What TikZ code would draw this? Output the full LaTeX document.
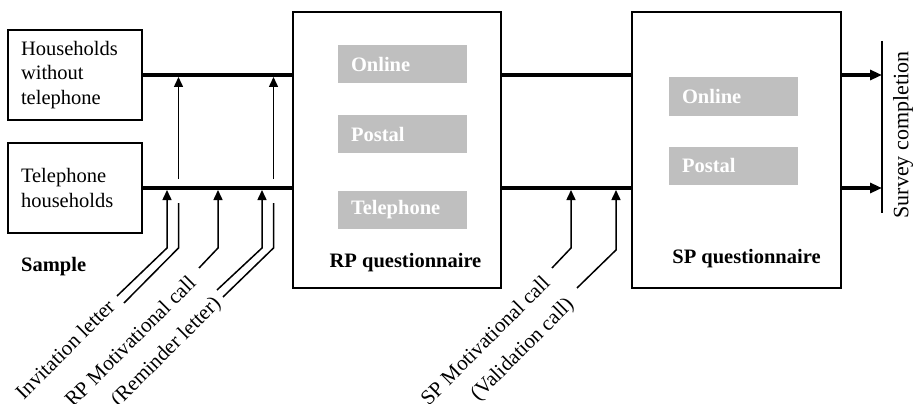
\documentclass[tikz,border=0pt]{standalone}
\usepackage{fontspec}
\setmainfont{Liberation Serif}
\usetikzlibrary{arrows.meta}
\begin{document}
\begin{tikzpicture}[x=1pt,y=-1pt,
  frame/.style={draw, line width=1.3pt, inner sep=0pt},
  srcbox/.style={frame, align=left, text width=108pt, inner xsep=13pt,
    minimum height=90pt, font=\fontsize{20.5}{24.5}\selectfont},
  mode/.style={fill=black!25, text=white, align=left, text width=103pt,
    inner xsep=13pt, inner ysep=0pt, minimum height=38pt,
    font=\fontsize{20.5}{24}\selectfont\bfseries},
  caption/.style={anchor=base, font=\fontsize{20.5}{24}\selectfont\bfseries},
  flow/.style={line width=3.2pt},
  flowout/.style={line width=3.2pt, -{Triangle[length=12pt,width=10pt]}},
  lead/.style={line width=1.5pt},
  cue/.style={line width=1.5pt, -{Triangle[length=10pt,width=9pt]}},
  tag/.style={rotate=45, anchor=east, inner sep=0pt,
    font=\fontsize{21}{24}\selectfont}]
\useasboundingbox (0,0) rectangle (916,404);

% sample groups
\node[srcbox] (nophone) at (75,75) {Households\\without\\telephone};
\node[srcbox] (phone) at (75,188) {Telephone\\households};
\node[anchor=base west, inner sep=0pt, font=\fontsize{20.5}{24}\selectfont\bfseries]
  (sample) at (21,271) {Sample};

% RP questionnaire
\node[frame, minimum width=208pt, minimum height=276pt] (rp) at (397,150) {};
\node[mode] (rponline) at (402.5,64) {Online};
\node[mode] (rppostal) at (402.5,134) {Postal};
\node[mode] (rpphone) at (402.5,210) {Telephone};
\node[caption] (rpcap) at (405.5,267) {RP questionnaire};

% SP questionnaire
\node[frame, minimum width=209pt, minimum height=276pt] (sp) at (736.5,150) {};
\node[mode] (sponline) at (733.5,96.5) {Online};
\node[mode] (sppostal) at (733.5,165.5) {Postal};
\node[caption] (spcap) at (746.5,263) {SP questionnaire};

% survey completion bar
\coordinate (bartop) at (882,41);
\coordinate (barbot) at (882,213);
\draw[line width=1.3pt] (bartop) -- (barbot);
\node[rotate=90, inner sep=0pt, font=\fontsize{22}{24}\selectfont] (done) at (903,135) {Survey completion};

% main flows
\draw[flow] (nophone.east) -- (nophone.east -| rp.west);
\draw[flow] (phone.east) -- (phone.east -| rp.west);
\draw[flow] (rp.east |- nophone.east) -- (sp.west |- nophone.east);
\draw[flow] (rp.east |- phone.east) -- (sp.west |- phone.east);
\draw[flowout] (sp.east |- nophone.east) -- (bartop |- nophone.east);
\draw[flowout] (sp.east |- phone.east) -- (bartop |- phone.east);

% contact labels
\node[tag] (invite) at (111,303) {Invitation letter};
\node[tag] (rpcall) at (192,279) {RP Motivational call};
\node[tag] (remind) at (218,301) {(Reminder letter)};
\node[tag] (spcall) at (546,279) {SP Motivational call};
\node[tag] (valid) at (571,302) {(Validation call)};

% bend points of the contact leads
\coordinate (inva) at (117,296);  \coordinate (invab) at (167,248);
\coordinate (invb) at (124,303);  \coordinate (invbb) at (178.5,248);
\coordinate (rpca) at (199,268);  \coordinate (rpcab) at (218,248);
\coordinate (rema) at (217,290);  \coordinate (remab) at (262,248);
\coordinate (remb) at (223,297);  \coordinate (rembb) at (273.5,248);
\coordinate (spca) at (552,268);  \coordinate (spcab) at (571,248);
\coordinate (vala) at (577,288);  \coordinate (valab) at (616,250);

% contacts reaching the telephone households
\draw[cue] (inva) -- (invab) -- (invab |- 0,190);
\draw[cue] (rpca) -- (rpcab) -- (rpcab |- 0,190);
\draw[cue] (rema) -- (remab) -- (remab |- 0,190);
\draw[cue] (spca) -- (spcab) -- (spcab |- 0,190);
\draw[cue] (vala) -- (valab) -- (valab |- 0,190);

% contacts reaching the households without telephone
\draw[lead] (invb) -- (invbb) -- (invbb |- 0,203);
\draw[cue] (invbb |- 0,179) -- (invbb |- 0,77);
\draw[lead] (remb) -- (rembb) -- (rembb |- 0,203);
\draw[cue] (rembb |- 0,179) -- (rembb |- 0,77);
\end{tikzpicture}
\end{document}
